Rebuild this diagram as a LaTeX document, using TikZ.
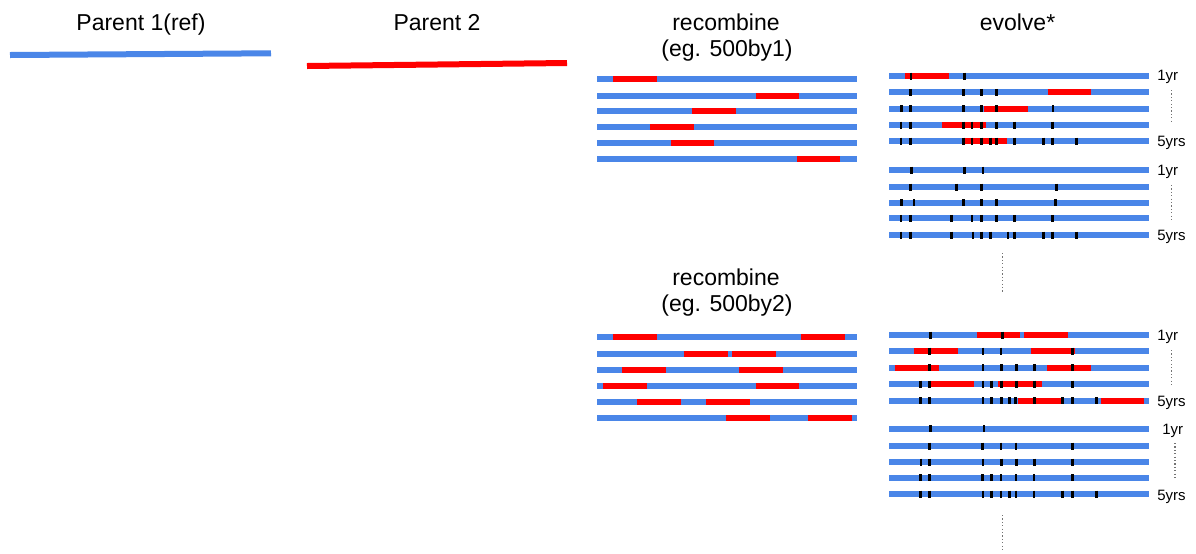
\documentclass[tikz,border=0pt]{standalone}
\usepackage{fontspec}
\setmainfont{Liberation Sans}

\definecolor{chromblue}{HTML}{4A86E8}
\definecolor{crossred}{HTML}{FF0000}
\tikzset{
	chrom/.style={line width=3pt, color=chromblue},
	cross/.style={line width=3pt, color=crossred},
	mutmark/.style={line width=1.3pt, color=black},
	head/.style={font=\fontsize{11.5}{13.8}\selectfont, anchor=base, inner sep=0pt},
	yrlab/.style={font=\fontsize{7.5}{9}\selectfont, anchor=base west, inner sep=0pt},
	yrdots/.style={color=black!55, line width=0.7pt, dash pattern=on 0.6pt off 1.1pt},
}

\begin{document}
\begin{tikzpicture}[x=0.5pt,y=-0.5pt]
			\useasboundingbox (0,0) rectangle (1196,553);
			% parents
			\node[head] (p1) at (141,30.7) {Parent 1(ref)};
			\node[head] (p2) at (437,30.7) {Parent 2};
			\draw[chrom] (10,55) -- (271,53.3);
			\draw[cross] (307,66) -- (567,63);
			% recombine
			\node[head] (rc1) at (726,30) {recombine};
			\node[head] (rc1eg) at (727,56.5) {(eg. 500by1)};
			\node[head] (rc2) at (726,285) {recombine};
			\node[head] (rc2eg) at (727,311.7) {(eg. 500by2)};
			\foreach \y in {79,95.5,111,127,143,159,337,353.5,369.5,385.5,401.5,418}
				\draw[chrom] (597,\y) -- (857,\y);
			\foreach \y/\a in {79/613.3, 95.5/755.7, 111/692, 127/650, 143/670.7, 159/796.7,
					337/613, 337/801, 353.5/684.3, 353.5/732.3, 369.5/622, 369.5/739.3,
					385.5/603, 385.5/755.7, 401.5/637, 401.5/706, 418/726.3, 418/808.3}
				\draw[cross] (\a,\y) -- ++(43.6,0);
			% evolve
			\node[head] (ev) at (1017.5,30) {evolve*};
			\foreach \y in {76,92.3,108.7,125,141,170,187,202.7,218.3,235,335,351,367.7,384,400.7,428.7,446,462,477.7,494}
				\draw[chrom] (889,\y) -- (1148.7,\y);
			\foreach \y/\a in {76/905.3, 92.3/1047.7, 108.7/984.3, 125/942, 141/963.3,
					335/976.7, 335/1024.3, 351/914, 351/1031.3, 367.7/895.3, 367.7/1047.3,
					384/930, 384/998.3, 400.7/1018.3, 400.7/1100.7}
				\draw[cross] (\a,\y) -- ++(43.6,0);
			\foreach \y/\m in {
					76/{911,964.7},
					92.3/{910.3,963.3,981.7,996.3},
					108.7/{901.3,910.3,963.3,981.7,996.7,1053},
					125/{901,910.3,963.3,972,981.7,996.3,1014.3,1052.7},
					141/{901,910.3,963.3,972,981.7,990.3,996.3,1014.3,1043.7,1052.7,1076.7},
					170/{911.3,964.7,983},
					187/{910.3,956.7,981.7,1056.3},
					202.7/{901.3,914,963.3,981.7,996.7,1055.3},
					218.3/{901,910.3,951.3,972,981.7,996.3,1014.3,1052.7},
					235/{901,910.3,951.3,973,981.7,990.3,1008,1014.3,1043.7,1052.7,1076.7},
					335/{930.7,1002.7},
					351/{929.3,983,1001,1072.3},
					367.7/{929.7,983,1001.3,1016.3,1034.3,1072.3},
					384/{920.3,929.3,983,991.7,1001.3,1016.3,1034.3,1072.3},
					400.7/{920.3,929.3,983,991.7,1001.3,1009.3,1015.7,1034.3,1062.7,1072.3,1096.3},
					428.7/{930.7,984},
					446/{929.3,982.7,1001,1016,1072.3},
					462/{921,929.7,983,1001.3,1016.3,1034.3,1072.3},
					477.7/{920.3,929.3,982.7,991.7,1001,1016,1034,1072.3},
					494/{920.3,929.3,983,991.7,1001,1009.7,1016,1034,1062.7,1072.3,1096.3}}
				\foreach \t in \m
					\draw[mutmark] (\t,\y-3.5) -- (\t,\y+3.5);
			% years
			\node[yrlab] (y1a) at (1157,80.7) {1yr};
			\node[yrlab] (y5a) at (1157,146) {5yrs};
			\node[yrlab] (y1b) at (1157,175.7) {1yr};
			\node[yrlab] (y5b) at (1157,240) {5yrs};
			\node[yrlab] (y1c) at (1157,340.5) {1yr};
			\node[yrlab] (y5c) at (1157,406) {5yrs};
			\node[yrlab] (y1d) at (1162,434) {1yr};
			\node[yrlab] (y5d) at (1157,500) {5yrs};
			\draw[yrdots] (1171.7,90) -- (1171.7,123);
			\draw[yrdots] (1171.7,185) -- (1171.7,220);
			\draw[yrdots] (1171.7,350) -- (1171.7,385);
			\draw[yrdots] (1175,443) -- (1175,480);
			\draw[yrdots] (1002.7,253) -- (1002.7,292);
			\draw[yrdots] (1002.7,515) -- (1002.7,552);
		\end{tikzpicture}
\end{document}
